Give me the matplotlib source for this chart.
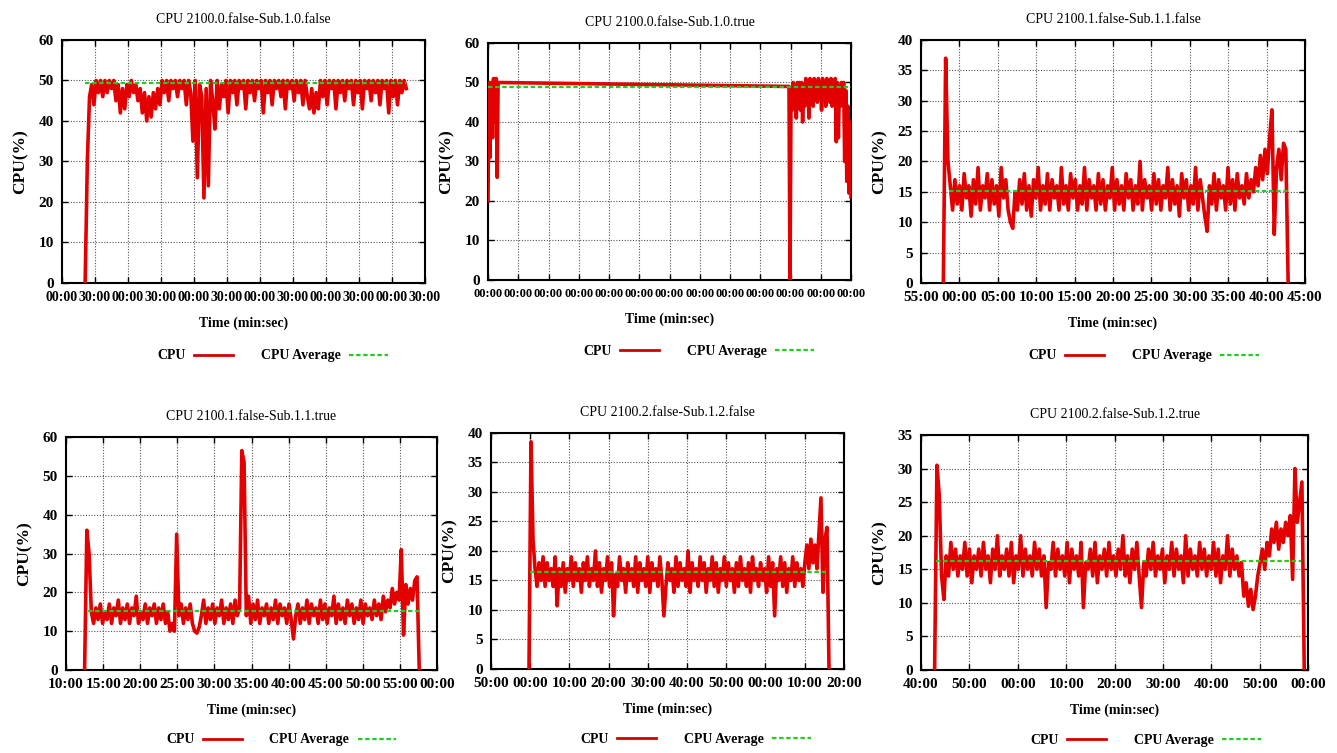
import matplotlib as M
M.use('agg')
import numpy as N
import matplotlib.pyplot as plt
from matplotlib.ticker import FuncFormatter, MultipleLocator

plt.rcParams['font.family'] = ['Liberation Serif', 'DejaVu Serif']

RED = '#e30000'
GREEN = '#22cc22'

titles = ['CPU 2100.0.false-Sub.1.0.false', 'CPU 2100.0.false-Sub.1.0.true',
          'CPU 2100.1.false-Sub.1.1.false', 'CPU 2100.1.false-Sub.1.1.true',
          'CPU 2100.2.false-Sub.1.2.false', 'CPU 2100.2.false-Sub.1.2.true']

# time axes in minutes (first sample, last sample)
# panel 1
p1_span = (21, 313)
p1_cpu = [0, 30, 46, 49, 44, 50, 47, 50, 46, 50,
          47, 50, 48, 50, 45, 49, 42, 48, 43, 49,
          46, 50, 47, 49, 45, 48, 42, 47, 40, 46,
          41, 47, 43, 48, 44, 50, 47, 50, 45, 50,
          48, 50, 46, 50, 48, 50, 44, 50, 47, 35,
          50, 26, 49, 46, 21, 48, 24, 50, 45, 38,
          50, 43, 49, 46, 50, 42, 50, 47, 50, 44,
          50, 48, 50, 43, 50, 47, 50, 45, 50, 48,
          50, 42, 50, 47, 50, 44, 50, 48, 50, 46,
          50, 43, 50, 48, 50, 45, 50, 47, 50, 44,
          50, 46, 43, 48, 42, 47, 43, 50, 46, 50,
          44, 50, 48, 50, 43, 50, 47, 50, 45, 50,
          48, 50, 44, 50, 47, 50, 43, 50, 48, 50,
          45, 50, 47, 50, 44, 50, 48, 50, 42, 50,
          46, 50, 44, 50, 47, 50, 48]
p1_avg = 49.4
p1_avg_span = (21, 313)

# panel 2: two bursts joined by a long gap
p2_span_a = (0, 20)
p2_cpu_a = [20, 50, 31, 50, 46, 36, 51, 48, 40, 51, 26, 50]
p2_gap_end = (597, 49.0)
p2_span_b = (599, 720)
p2_cpu_b = [0, 48, 43, 50, 44, 49, 41, 50, 45, 50,
            43, 50, 40, 49, 44, 51, 46, 50, 41, 51,
            47, 50, 44, 51, 46, 50, 45, 51, 47, 50,
            43, 51, 46, 50, 44, 51, 47, 50, 45, 51,
            44, 50, 46, 51, 35, 50, 36, 49, 44, 50,
            46, 50, 30, 48, 25, 44, 22, 40, 21]
p2_avg = 48.8
p2_avg_span = (0, 720)

# panel 3
p3_span = (-2.1, 42.8)
p3_cpu = [0, 37, 20, 16, 12, 17, 13, 16, 12, 18,
          14, 16, 11, 17, 13, 19, 12, 16, 14, 18,
          12, 17, 13, 16, 11, 19, 14, 17, 12, 10,
          9, 15, 12, 17, 13, 18, 12, 16, 11, 17,
          14, 19, 12, 16, 13, 18, 12, 17, 14, 16,
          12, 19, 13, 16, 12, 18, 14, 17, 12, 16,
          13, 19, 12, 17, 14, 16, 12, 18, 13, 17,
          12, 16, 14, 19, 12, 17, 13, 16, 12, 18,
          14, 17, 12, 16, 13, 20, 12, 17, 14, 16,
          12, 18, 13, 17, 12, 16, 14, 19, 12, 17,
          13, 16, 11, 18, 14, 17, 12, 16, 13, 19,
          12, 17, 14, 11, 8.5, 16, 13, 18, 12, 17,
          14, 16, 12, 19, 13, 17, 12, 18, 14, 16,
          13, 18, 14, 17, 15, 19, 16, 21, 17, 22,
          18, 24, 28.5, 8, 19, 22, 17, 23, 22, 0]
p3_avg = 15.1
p3_avg_span = (-1.3, 42.8)

# panel 4
p4_span = (12.5, 57.6)
p4_cpu = [0, 36, 30, 15, 12, 16, 13, 17, 12, 15,
          13, 17, 12, 16, 14, 18, 12, 16, 13, 17,
          12, 16, 14, 19, 12, 15, 13, 17, 12, 16,
          14, 17, 12, 16, 13, 17, 12, 15, 10, 12,
          10, 35, 14, 17, 12, 16, 13, 17, 12, 10,
          9.5, 11, 14, 18, 12, 16, 13, 17, 12, 16,
          14, 18, 12, 16, 13, 17, 12, 18, 14, 16,
          56.5, 53.5, 14, 19, 12, 17, 13, 18, 12, 16,
          14, 17, 12, 16, 13, 18, 12, 17, 14, 16,
          12, 17, 13, 8, 14, 17, 12, 16, 13, 18,
          12, 17, 14, 16, 12, 18, 13, 17, 12, 16,
          14, 19, 12, 17, 13, 16, 12, 18, 14, 17,
          12, 16, 13, 18, 12, 17, 14, 16, 13, 18,
          14, 17, 13, 19, 15, 18, 16, 21, 17, 20,
          18, 31, 9, 22, 17, 21, 18, 23, 24, 0]
p4_avg = 15.2
p4_avg_span = (13, 57.5)

# panel 5
p5_span = (-0.3, 76.2)
p5_cpu = [0, 38.5, 22, 17, 14, 18, 15, 19, 14, 18,
          15, 17, 14, 19, 10.7, 17, 14, 18, 13, 17,
          15, 19, 14, 18, 15, 17, 13, 18, 15, 19,
          14, 17, 15, 20, 14, 18, 13, 17, 15, 19,
          14, 18, 9, 16, 14, 19, 15, 17, 13, 18,
          15, 17, 14, 19, 13, 18, 15, 17, 14, 19,
          13, 18, 15, 17, 14, 19, 15, 9, 14, 18,
          15, 17, 13, 19, 14, 18, 15, 17, 14, 20,
          13, 18, 15, 17, 14, 19, 15, 18, 13, 17,
          15, 19, 14, 18, 13, 17, 15, 19, 14, 18,
          15, 17, 13, 18, 14, 19, 15, 17, 14, 18,
          13, 19, 15, 17, 14, 18, 15, 17, 13, 19,
          14, 18, 9, 17, 15, 19, 14, 18, 13, 17,
          15, 19, 14, 18, 15, 17, 14, 18, 21, 17,
          22, 18, 21, 17, 23, 29, 13, 22, 24, 0]
p5_avg = 16.5
p5_avg_span = (0, 76)

# panel 6
p6_span = (42.8, 119.2)
p6_cpu = [0, 30.5, 26, 14, 10.5, 17, 14, 19, 15, 18,
          14, 17, 15, 19, 14, 18, 13, 17, 15, 18,
          14, 19, 15, 17, 13, 18, 15, 20, 14, 17,
          15, 18, 14, 19, 13, 17, 15, 20, 14, 18,
          15, 17, 14, 19, 15, 18, 14, 17, 9.3, 16,
          15, 19, 14, 18, 15, 17, 14, 19, 13, 18,
          15, 17, 14, 19, 9.3, 16, 15, 18, 14, 19,
          13, 17, 15, 18, 14, 19, 15, 17, 14, 18,
          15, 20, 14, 17, 13, 18, 15, 19, 14, 9.3,
          16, 14, 18, 15, 19, 14, 17, 15, 18, 13,
          17, 15, 19, 14, 18, 15, 17, 13, 20, 14,
          18, 15, 17, 14, 19, 15, 18, 14, 17, 15,
          19, 14, 18, 13, 17, 15, 20, 14, 18, 15,
          17, 14, 16, 11, 13, 9.5, 12, 9, 11, 14,
          16, 18, 15, 19, 17, 21, 19, 22, 18, 21,
          19, 22, 20, 23, 13.5, 30, 22, 25, 28, 0]
p6_avg = 16.3
p6_avg_span = (43, 118.5)

# x range / tick step (minutes), y range / tick step
xlims = [(0, 330, 30), (0, 720, 60), (-5, 45, 5), (10, 60, 5), (-10, 80, 10), (40, 120, 10)]
ylims = [(60, 10), (60, 10), (40, 5), (60, 10), (40, 5), (35, 5)]
xtick_size = [10, 9, 11, 11, 11, 11]

# axes boxes in figure fractions
boxes = [[0.0464, 0.6242, 0.2715, 0.3227],
         [0.3650, 0.6282, 0.2715, 0.3147],
         [0.6889, 0.6242, 0.2872, 0.3227],
         [0.0494, 0.1102, 0.2775, 0.3094],
         [0.3672, 0.1116, 0.2640, 0.3134],
         [0.6889, 0.1102, 0.2895, 0.3121]]


def series(span, vals):
    return N.linspace(span[0], span[1], len(vals)), N.array(vals, dtype=float)


t2a, v2a = series(p2_span_a, p2_cpu_a)
t2b, v2b = series(p2_span_b, p2_cpu_b)
t2 = N.concatenate([t2a, [p2_gap_end[0]], t2b])
v2 = N.concatenate([v2a, [p2_gap_end[1]], v2b])

DATA = [(series(p1_span, p1_cpu), p1_avg, p1_avg_span),
        ((t2, v2), p2_avg, p2_avg_span),
        (series(p3_span, p3_cpu), p3_avg, p3_avg_span),
        (series(p4_span, p4_cpu), p4_avg, p4_avg_span),
        (series(p5_span, p5_cpu), p5_avg, p5_avg_span),
        (series(p6_span, p6_cpu), p6_avg, p6_avg_span)]

mmss = FuncFormatter(lambda m, pos: '%02d:00' % (int(round(m)) % 60))

fig = plt.figure(figsize=(13.37, 7.53), dpi=100)

for i in range(6):
    ax = fig.add_axes(boxes[i])
    (t, v), avg, aspan = DATA[i]
    ax.plot(t, v, color=RED, lw=2.6, label='CPU', zorder=3)
    ax.plot(aspan, [avg, avg], color=GREEN, lw=1.6, ls=(0, (2, 1.2)),
            label='CPU Average', zorder=4)

    x0, x1, xs = xlims[i]
    ax.set_xlim(x0, x1)
    ax.xaxis.set_major_locator(MultipleLocator(xs))
    ax.xaxis.set_major_formatter(mmss)
    ytop, ys = ylims[i]
    ax.set_ylim(0, ytop)
    ax.yaxis.set_major_locator(MultipleLocator(ys))

    ax.grid(True, color='#555555', lw=0.8, ls=(0, (1, 1.5)))
    ax.tick_params(direction='in', top=True, right=True, length=4, width=1,
                   labelsize=11, pad=6)
    ax.tick_params(axis='x', labelsize=xtick_size[i])
    for lab in ax.get_xticklabels() + ax.get_yticklabels():
        lab.set_fontweight('bold')
    for s in ax.spines.values():
        s.set_linewidth(1.5)

    ax.set_title(titles[i], fontsize=10, pad=12)
    ax.set_xlabel('Time (min:sec)', fontsize=10, fontweight='bold', labelpad=9)
    ax.set_ylabel('CPU(%)', fontsize=12.5, fontweight='bold', labelpad=7)

    leg = ax.legend(loc='center', bbox_to_anchor=(0.58, -0.30), ncol=2, frameon=False,
                    markerfirst=False, handlelength=2.8, handletextpad=0.6,
                    columnspacing=2.0, prop={'size': 10, 'weight': 'bold'})
    leg.get_lines()[0].set_linewidth(2.0)
    leg.get_lines()[0].set_color('#d00000')

fig.savefig('out.png', dpi=100)
plt.close(fig)
